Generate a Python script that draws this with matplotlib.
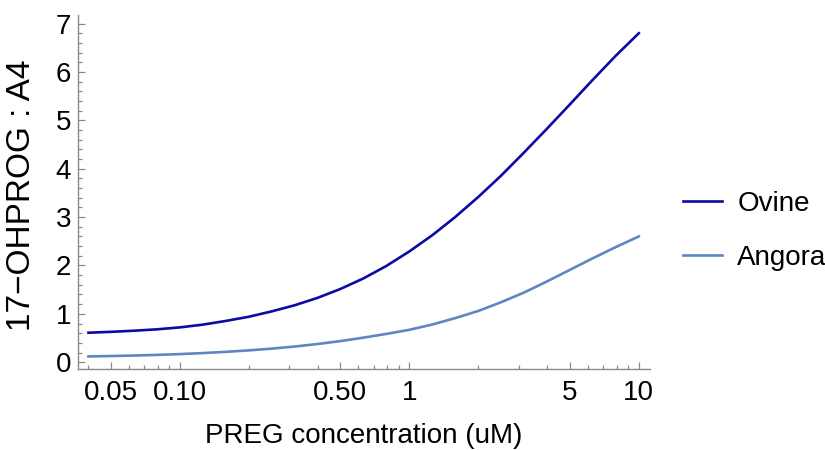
import matplotlib
matplotlib.use("Agg")
import matplotlib.pyplot as plt
from matplotlib.ticker import FixedLocator, NullFormatter

plt.rcParams['font.family'] = ['Liberation Sans', 'DejaVu Sans']

# PREG concentration (uM) and the 17-OHPROG : A4 ratio for each breed
preg = [0.04, 0.05, 0.063, 0.079, 0.1, 0.126, 0.158, 0.2, 0.251, 0.316,
        0.398, 0.501, 0.631, 0.794, 1, 1.26, 1.58, 2, 2.51, 3.16, 3.98,
        5.01, 6.31, 7.94, 10]
ovine = [0.61, 0.628, 0.651, 0.679, 0.72, 0.777, 0.852, 0.94, 1.05, 1.176,
         1.33, 1.514, 1.732, 1.989, 2.29, 2.626, 2.995, 3.418, 3.855, 4.334,
         4.827, 5.33, 5.841, 6.336, 6.8]
angora = [0.12, 0.128, 0.138, 0.151, 0.168, 0.189, 0.214, 0.245, 0.281,
          0.324, 0.376, 0.437, 0.508, 0.585, 0.67, 0.78, 0.91, 1.06, 1.24,
          1.44, 1.67, 1.91, 2.15, 2.38, 2.6]

xticks = [0.05, 0.1, 0.5, 1, 5, 10]
xticklabels = ['0.05', '0.10', '0.50', '1', '5', '10']
xminor = [0.04, 0.06, 0.07, 0.08, 0.09, 0.2, 0.3, 0.4, 0.6, 0.7, 0.8, 0.9,
          2, 3, 4, 6, 7, 8, 9]

fig = plt.figure(figsize=(8.25, 4.5), dpi=100)
ax = fig.add_axes([0.0945, 0.18, 0.6935, 0.787])

ax.plot(preg, ovine, color='#0b0ba3', lw=1.9, label='Ovine')
ax.plot(preg, angora, color='#5f86c0', lw=1.9, label='Angora')

ax.set_xscale('log')
ax.set_xlim(0.036, 11.2)
ax.set_ylim(-0.14, 7.18)

ax.xaxis.set_major_locator(FixedLocator(xticks))
ax.set_xticklabels(xticklabels)
ax.xaxis.set_minor_locator(FixedLocator(xminor))
ax.xaxis.set_minor_formatter(NullFormatter())
ax.set_yticks(range(0, 8))
ax.set_yticks([i * 0.2 for i in range(36) if i % 5], minor=True)

for side in ['top', 'right']:
    ax.spines[side].set_visible(False)
for side in ['left', 'bottom']:
    ax.spines[side].set_color('#8a8a8a')
    ax.spines[side].set_linewidth(1.0)

ax.tick_params(which='both', direction='in', color='#8a8a8a', width=0.9,
               labelsize=20, labelcolor='black')
ax.tick_params(which='major', length=5)
ax.tick_params(which='minor', length=3)
ax.tick_params(axis='y', pad=5)
ax.tick_params(axis='x', pad=8)

ax.set_xlabel('PREG concentration (uM)', fontsize=20, labelpad=12)
ax.set_ylabel('17\u2212OHPROG : A4', fontsize=24)
ax.yaxis.set_label_coords(-0.072, 0.49)

fig.legend(loc='center left', bbox_to_anchor=(683 / 825, 1 - 231 / 450),
           frameon=False, fontsize=20, handlelength=1.4, handletextpad=0.55,
           labelspacing=1.0, borderpad=0, borderaxespad=0)

fig.savefig('out.png', dpi=100)
